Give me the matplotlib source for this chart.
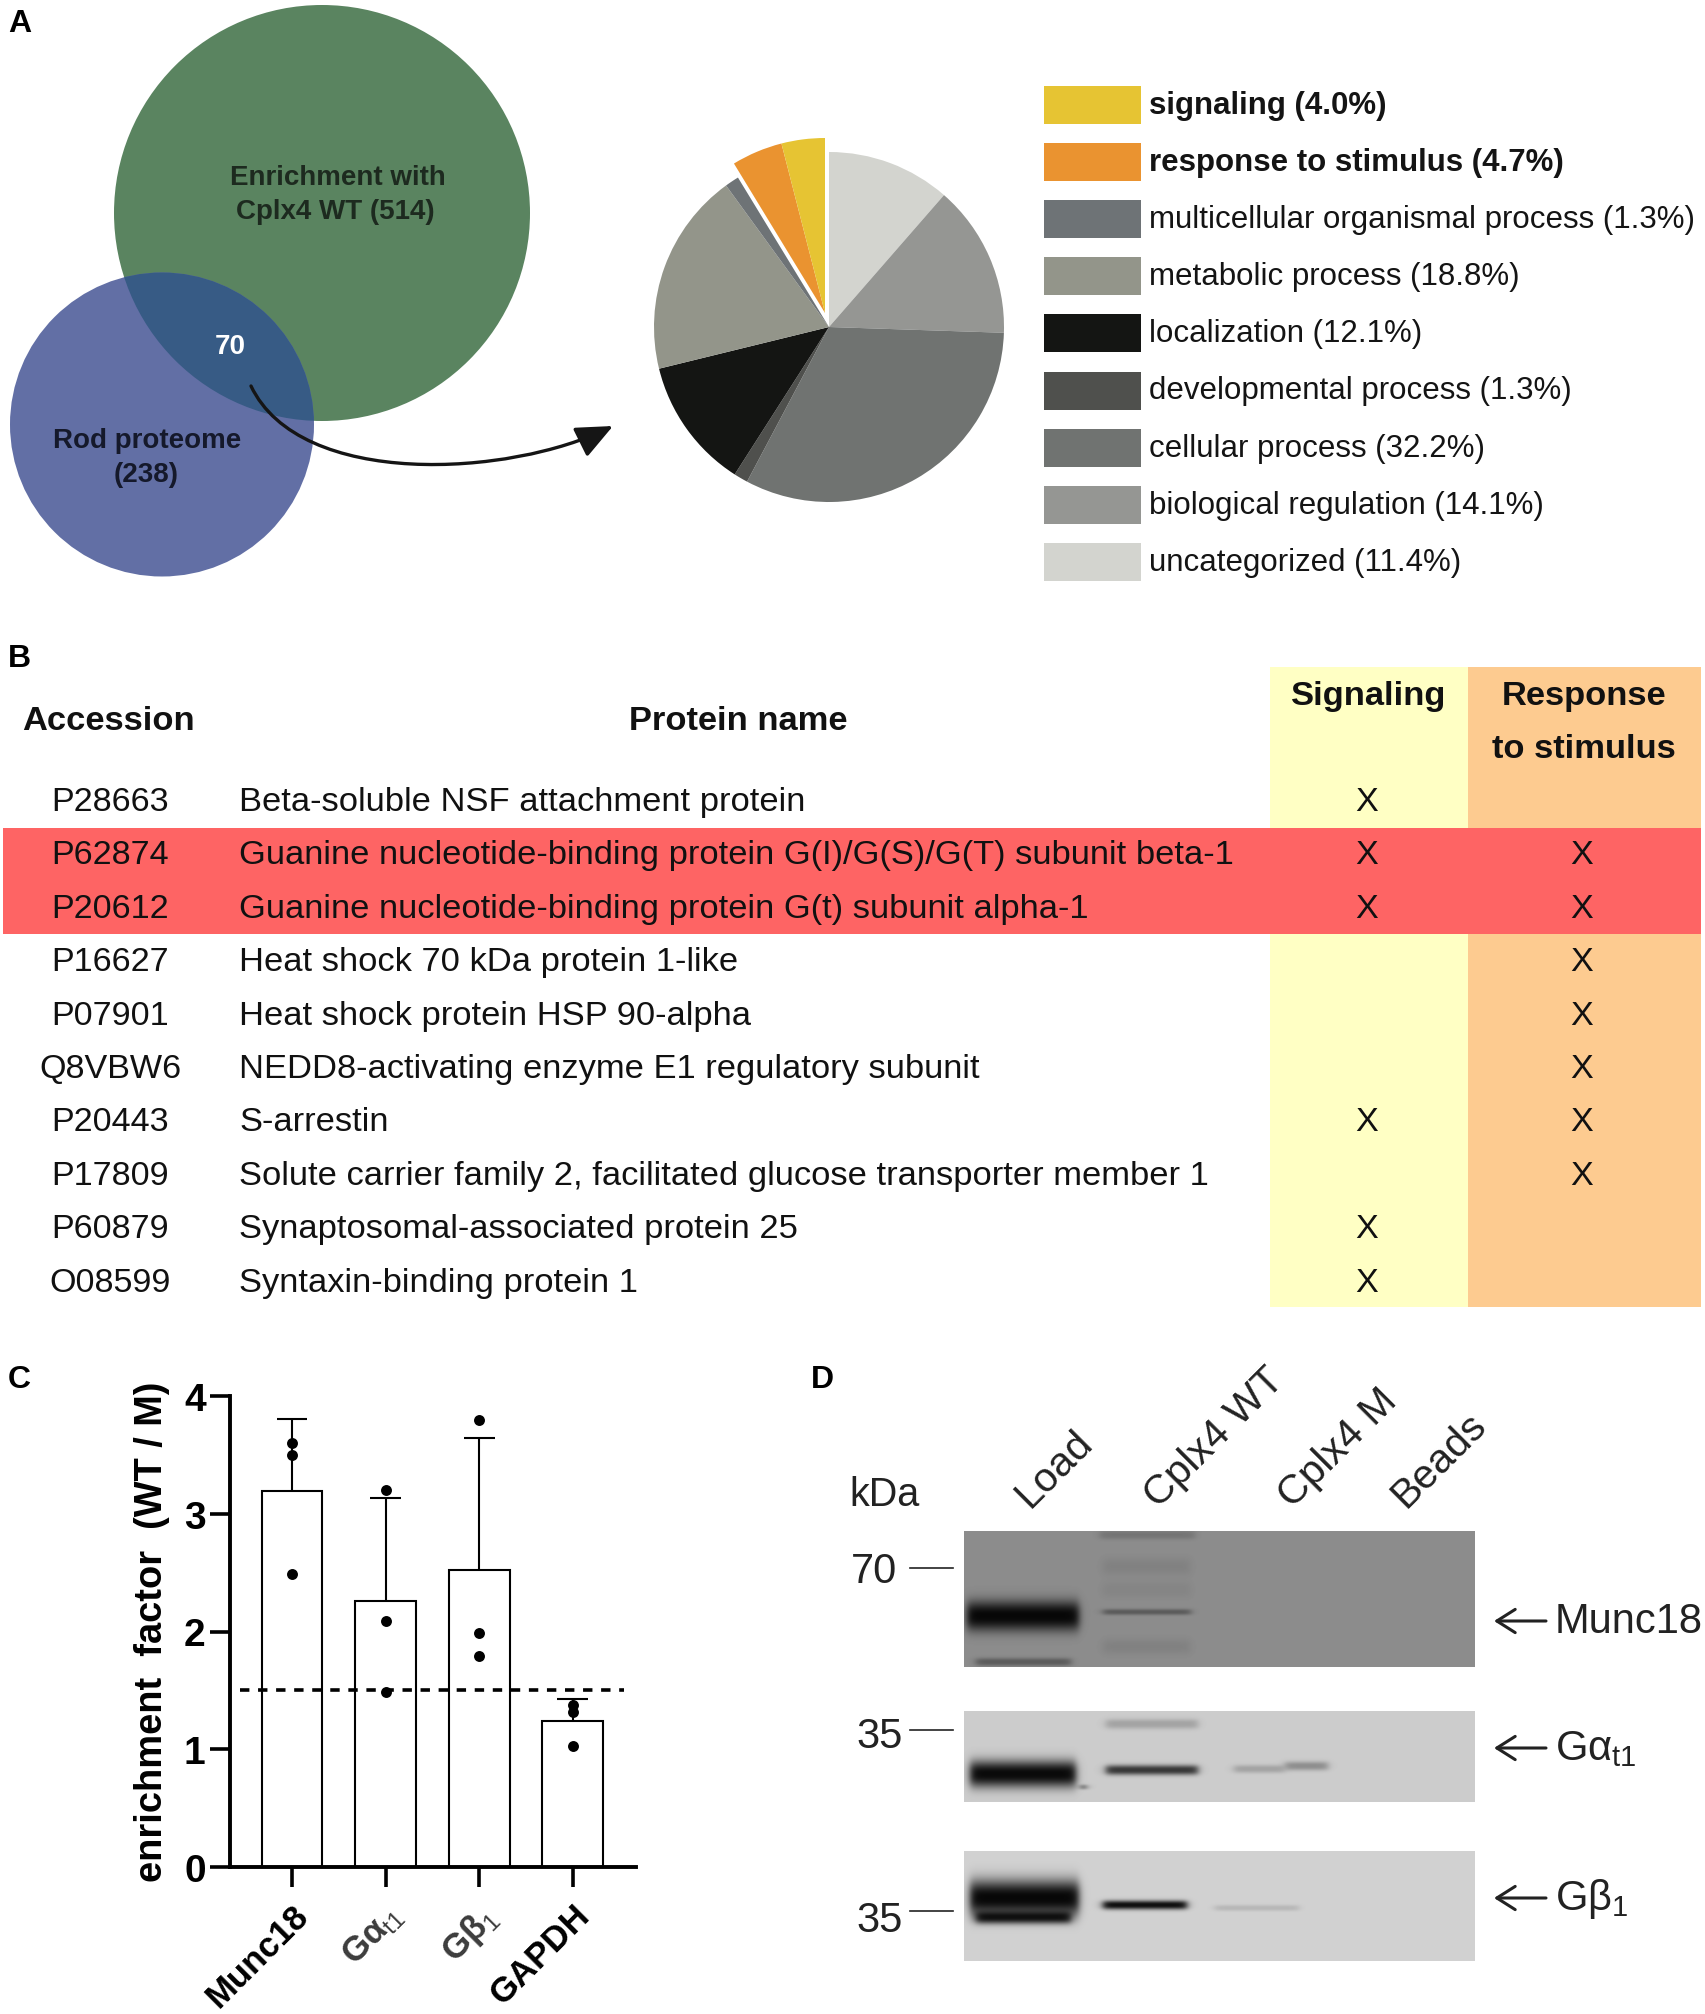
import numpy as np
import matplotlib
matplotlib.use("Agg")
import matplotlib.pyplot as plt
from matplotlib.patches import Circle, Rectangle, FancyArrowPatch
from matplotlib.path import Path

plt.rcParams['font.family'] = ['Liberation Sans', 'DejaVu Sans']
plt.rcParams['mathtext.fontset'] = 'custom'
plt.rcParams['mathtext.rm'] = 'Liberation Sans'
plt.rcParams['mathtext.bf'] = 'Liberation Sans:bold'
plt.rcParams['mathtext.it'] = 'Liberation Sans:italic'

W, H = 1705, 2015

# ---- data ----
pie_labels = ['uncategorized', 'biological regulation', 'cellular process', 'developmental process',
              'localization', 'metabolic process', 'multicellular organismal process',
              'response to stimulus', 'signaling']
pie_values = [11.4, 14.1, 32.2, 1.3, 12.1, 18.8, 1.3, 4.7, 4.0]
pie_colors = ['#d3d4cf', '#959693', '#707371', '#4f504d', '#141513', '#93958a', '#6e7376', '#ea9330', '#e6c433']
pie_bold = ['signaling', 'response to stimulus']

accessions = ['P28663', 'P62874', 'P20612', 'P16627', 'P07901', 'Q8VBW6', 'P20443', 'P17809', 'P60879', 'O08599']
proteins = ['Beta-soluble NSF attachment protein',
            'Guanine nucleotide-binding protein G(I)/G(S)/G(T) subunit beta-1',
            'Guanine nucleotide-binding protein G(t) subunit alpha-1',
            'Heat shock 70 kDa protein 1-like',
            'Heat shock protein HSP 90-alpha',
            'NEDD8-activating enzyme E1 regulatory subunit',
            'S-arrestin',
            'Solute carrier family 2, facilitated glucose transporter member 1',
            'Synaptosomal-associated protein 25',
            'Syntaxin-binding protein 1']
signaling_marks = [1, 1, 1, 0, 0, 0, 1, 0, 1, 1]
response_marks = [0, 1, 1, 1, 1, 1, 1, 1, 0, 0]

bar_labels = ['Munc18', 'G\u03b1$_{\\mathrm{t1}}$', 'G\u03b2$_{\\mathrm{1}}$', 'GAPDH']
bar_means = [3.19, 2.26, 2.52, 1.24]
bar_tops = [3.805, 3.13, 3.64, 1.43]
bar_points = [[3.6, 3.5, 2.49], [3.2, 2.09, 1.49], [3.8, 1.99, 1.79], [1.38, 1.32, 1.03]]
threshold = 1.5

lanes = ['Load', 'Cplx4 WT', 'Cplx4 M', 'Beads']
# blot bands: x start, x end, y centre, thickness, grey level
blot1_bands = [(967, 1079, 1617, 30, 0.03), (976, 1071, 1663, 8, 0.36), (1103, 1191, 1613, 6, 0.36),
               (1103, 1191, 1568, 18, 0.51), (1103, 1191, 1591, 16, 0.52), (1103, 1191, 1648, 16, 0.51),
               (1100, 1195, 1536, 9, 0.46)]
blot2_bands = [(1106, 1198, 1725, 10, 0.64), (970, 1076, 1775, 27, 0.04), (1106, 1198, 1771, 10, 0.22),
               (1234, 1285, 1770, 8, 0.64), (1285, 1328, 1767, 9, 0.56), (1081, 1086, 1788, 5, 0.3)]
blot3_bands = [(970, 1079, 1899, 36, 0.03), (976, 1071, 1918, 13, 0.06), (1103, 1187, 1906, 9, 0.06),
               (1215, 1299, 1909, 6, 0.72)]

# ---- figure ----
fig = plt.figure(figsize=(W / 100, H / 100), dpi=100, facecolor='white')
ov = fig.add_axes([0, 0, 1, 1])
ov.set_xlim(0, W)
ov.set_ylim(H, 0)
ov.axis('off')


def T(x, y, s, size, **kw):
    kw.setdefault('ha', 'left')
    kw.setdefault('va', 'center')
    kw.setdefault('color', '#111111')
    return ov.text(x, y, s, fontsize=size, **kw)


for s, x, y in [('A', 8, 24), ('B', 8, 659), ('C', 8, 1380), ('D', 811, 1380)]:
    T(x, y, s, 23, weight='bold', color='black')

# ---- panel A venn ----
green = Circle((322, 214), 208, fc='#5a8460', ec='none')
blue = Circle((162, 425.5), 152, fc='#626fa5', ec='none')
ov.add_patch(green)
ov.add_patch(blue)
both = Circle((162, 425.5), 152, fc='#375b85', ec='none')
ov.add_patch(both)
both.set_clip_path(Circle((322, 214), 208, transform=ov.transData))
T(338, 178, 'Enrichment with', 20, ha='center', weight='bold', color='#1d2a1f')
T(335, 212, 'Cplx4 WT (514)', 20, ha='center', weight='bold', color='#1d2a1f')
T(230, 347, '70', 20, ha='center', weight='bold', color='white')
T(147, 441, 'Rod proteome', 20, ha='center', weight='bold', color='#15192b')
T(146, 475, '(238)', 20, ha='center', weight='bold', color='#15192b')
curve = Path([(251, 387), (300, 490), (510, 478), (613, 427)],
             [Path.MOVETO, Path.CURVE4, Path.CURVE4, Path.CURVE4])
ov.add_patch(FancyArrowPatch(path=curve, arrowstyle='-|>,head_length=1.25,head_width=0.55',
                             mutation_scale=18, lw=2.4, color='#151515', zorder=3))

# ---- panel A pie ----
R = 175
cx, cy = 829, 328
pad = 1.2
pax = fig.add_axes([(cx - pad * R) / W, 1 - (cy + pad * R) / H, 2 * pad * R / W, 2 * pad * R / H])
wedges, _ = pax.pie(pie_values, colors=pie_colors, startangle=90, counterclock=False, radius=1,
                    normalize=True, wedgeprops={'linewidth': 0})
for w, name in zip(wedges, pie_labels):
    if name in pie_bold:
        c = w.center
        w.set_center((c[0] - 4 / R, c[1] + 14 / R))
pax.set_xlim(-pad, pad)
pax.set_ylim(-pad, pad)
pax.axis('off')

for i, name in enumerate(pie_labels[::-1]):
    col = pie_colors[::-1][i]
    val = pie_values[::-1][i]
    y = 106 + i * 57.1
    ov.add_patch(Rectangle((1044, y - 19), 97, 38, fc=col, ec='none'))
    T(1149, y, f'{name} ({val:.1f}%)', 22.5, weight='bold' if name in pie_bold else 'normal', color='#141414')

# ---- panel B table ----
ov.add_patch(Rectangle((1270, 668), 198, 640, fc='#ffffc4', ec='none', zorder=0))
ov.add_patch(Rectangle((1468, 668), 233, 640, fc='#fdcb90', ec='none', zorder=0))
ov.add_patch(Rectangle((3, 829), 1698, 106, fc='#fe6464', ec='none', zorder=0.5))
T(108, 722, 'Accession', 24.8, ha='center', weight='bold')
T(738, 722, 'Protein name', 24.8, ha='center', weight='bold')
T(1369, 697, 'Signaling', 24.8, ha='center', weight='bold')
T(1584, 697, 'Response', 24.8, ha='center', weight='bold')
T(1584, 750, 'to stimulus', 24.8, ha='center', weight='bold')
for i, (a, p, s, r) in enumerate(zip(accessions, proteins, signaling_marks, response_marks)):
    y = 802.5 + i * 53.4
    T(110, y, a, 24.6, ha='center')
    T(239, y, p, 24.8)
    if s:
        T(1367, y, 'X', 24.6, ha='center')
    if r:
        T(1582, y, 'X', 24.6, ha='center')

# ---- panel C bars ----
xl = -0.662
xr = 3.675
bax = fig.add_axes([230 / W, 1 - 1868 / H, (636 - 230) / W, (1868 - 1397) / H])
bax.patch.set_alpha(0)
xs = np.arange(len(bar_means))
bax.bar(xs, bar_means, width=0.65, fc='white', ec='black', lw=1.5, zorder=2)
bax.vlines(xs, bar_means, bar_tops, color='black', lw=1.5, zorder=3)
bax.hlines(bar_tops, xs - 0.165, xs + 0.165, color='black', lw=1.5, zorder=3)
for x, pts in zip(xs, bar_points):
    bax.scatter([x] * len(pts), pts, s=62, color='black', zorder=5, linewidths=0)
bax.plot([-0.56, 3.55], [threshold, threshold], color='black', lw=2.6, ls=(0, (2.6, 2.4)), zorder=4)
bax.set_xlim(xl, xr)
bax.set_ylim(0, 4)
bax.set_yticks(range(5))
bax.set_xticks(xs)
bax.set_xticklabels(bar_labels, rotation=45, ha='right', rotation_mode='anchor', fontsize=25, weight='bold')
for lab, col in zip(bax.get_xticklabels(), ['black', '#3c3c3c', '#3c3c3c', 'black']):
    lab.set_color(col)
bax.tick_params(axis='y', length=14.5, width=2.6, labelsize=28, pad=3)
bax.tick_params(axis='x', length=14.5, width=2.6, pad=8)
for lab in bax.get_yticklabels():
    lab.set_weight('bold')
for s in ['top', 'right']:
    bax.spines[s].set_visible(False)
for s in ['left', 'bottom']:
    bax.spines[s].set_linewidth(2.8)
T(152, 1632, 'enrichment  factor  (WT / M)', 27.4, ha='center', rotation=90, weight='bold', color='black')


# ---- panel D blots ----
def blot(x0, x1, y0, y1, bg, bands):
    xx, yy = np.meshgrid(np.arange(x0, x1) + 0.5, np.arange(y0, y1) + 0.5)
    img = np.full(xx.shape, float(bg))
    for bx0, bx1, yc, th, lev in bands:
        e = 4.5
        sx = 0.5 * (np.tanh((xx - bx0) / e) - np.tanh((xx - bx1) / e))
        sy = np.exp(-(np.abs(yy - yc) / (th / 2)) ** 2.4)
        a = sx * sy
        img = img * (1 - a) + lev * a
    ov.imshow(img, cmap='gray', vmin=0, vmax=1, extent=(x0, x1, y1, y0), aspect='auto',
              interpolation='bilinear', zorder=1)


blot(964, 1475, 1532, 1668, 0.55, blot1_bands)
blot(964, 1475, 1712, 1803, 0.80, blot2_bands)
blot(964, 1475, 1852, 1962, 0.82, blot3_bands)
ov.set_xlim(0, W)
ov.set_ylim(H, 0)

GREY = '#222222'
T(849, 1495, 'kDa', 28.5, color=GREY)
T(851, 1572, '70', 30, color=GREY)
T(856, 1737, '35', 30, color=GREY)
T(856, 1921, '35', 30, color=GREY)
for y in [1569, 1731, 1912]:
    ov.plot([910, 953], [y, y], color=GREY, lw=1.2)
for name, x in zip(lanes, [1008, 1137, 1271, 1384]):
    T(x, 1515, name, 29.5, rotation=45, ha='left', va='bottom', color=GREY)
for y, s in [(1622, 'Munc18'), (1749, 'G\u03b1$_{\\mathrm{t1}}$'), (1899, 'G\u03b2$_{\\mathrm{1}}$')]:
    ov.add_patch(FancyArrowPatch((1546, y), (1494, y), arrowstyle='->,head_length=0.6,head_width=0.38',
                                 mutation_scale=22, lw=2.2, color=GREY, shrinkA=0, shrinkB=0))
    T(1555, y, s, 30, color=GREY)

fig.savefig('out.png', dpi=100, facecolor='white')
